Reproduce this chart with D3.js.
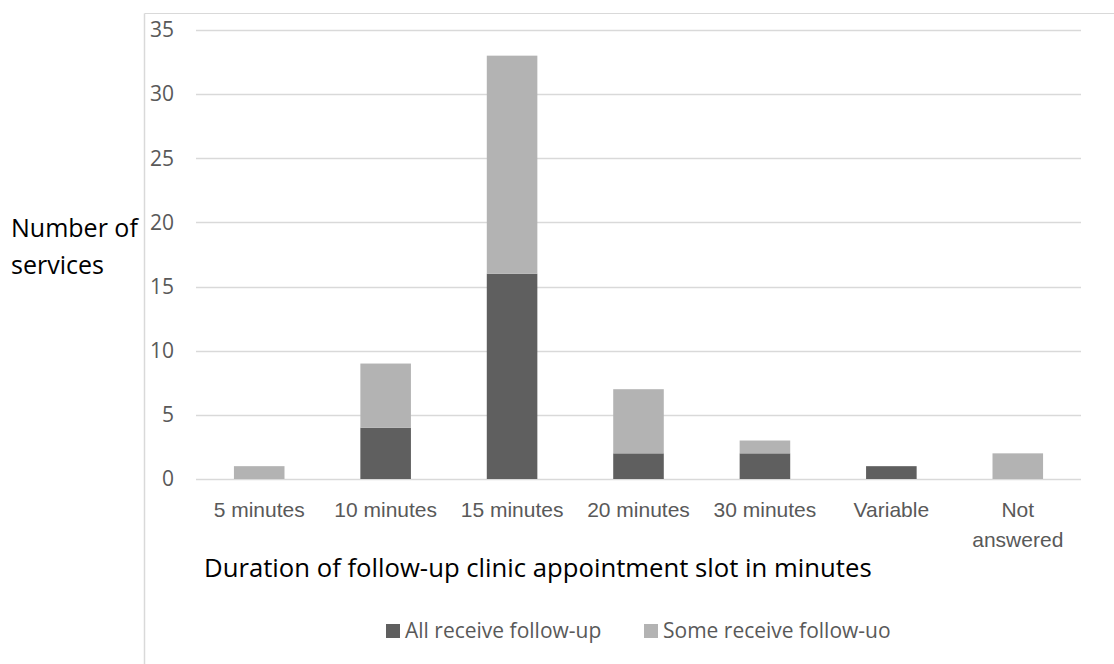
<!DOCTYPE html>
<html>
<head>
<meta charset="utf-8">
<script src="https://cdn.jsdelivr.net/npm/d3@7/dist/d3.min.js"></script>
<style>
  html, body { margin: 0; padding: 0; background: #fff; }
  svg { display: block; font-family: "Open Sans", sans-serif; }
</style>
</head>
<body>
<svg id="chart" width="1114" height="664"></svg>
<script>
// Follow-up clinic appointment slot durations
const categories = ["5 minutes", "10 minutes", "15 minutes", "20 minutes", "30 minutes", "Variable", "Not answered"];
const allReceive = [0, 4, 16, 2, 2, 1, 0];
const someReceive = [1, 5, 17, 5, 1, 0, 2];
const seriesNames = ["All receive follow-up", "Some receive follow-uo"];
const seriesColors = ["#5f5f5f", "#b3b3b3"];
const yTicks = [0, 5, 10, 15, 20, 25, 30, 35];

const svg = d3.select("#chart");

const rows = categories.map((c, i) => ({ cat: c, all: allReceive[i], some: someReceive[i] }));
const stack = d3.stack().keys(["all", "some"])(rows);

const x = d3.scaleBand().domain(categories).range([196, 1081]).paddingInner(0.6).paddingOuter(0.3);
const y = d3.scaleLinear().domain([0, 35]).range([479, 30]);

// outer frame (top and left edges)
svg.append("line").attr("x1", 144.5).attr("x2", 1114).attr("y1", 13.5).attr("y2", 13.5)
  .attr("stroke", "#d9d9d9").attr("stroke-width", 1);
svg.append("line").attr("x1", 144.5).attr("x2", 144.5).attr("y1", 13.5).attr("y2", 664)
  .attr("stroke", "#d9d9d9").attr("stroke-width", 1.5);

// gridlines
svg.append("g").selectAll("line").data(yTicks).join("line")
  .attr("x1", 196).attr("x2", 1081)
  .attr("y1", d => Math.round(y(d)) + 0.5).attr("y2", d => Math.round(y(d)) + 0.5)
  .attr("stroke", "#d9d9d9").attr("stroke-width", 1.5);

// y axis labels
const yAxis = svg.append("g").attr("transform", "translate(174,0)")
  .call(d3.axisLeft(y).tickValues(yTicks).tickSize(0).tickPadding(0));
yAxis.select(".domain").remove();
yAxis.selectAll("text").attr("fill", "#595959").style("font-size", "21px")
  .style("font-family", "'Open Sans', sans-serif");

// stacked bars
svg.append("g").selectAll("g").data(stack).join("g")
  .attr("fill", (d, i) => seriesColors[i])
  .selectAll("rect").data(d => d).join("rect")
  .attr("x", d => x(d.data.cat))
  .attr("width", x.bandwidth())
  .attr("y", d => y(d[1]))
  .attr("height", d => y(d[0]) - y(d[1]));

// x axis category labels
const xAxis = svg.append("g").attr("transform", "translate(0,479)")
  .call(d3.axisBottom(x).tickSize(0).tickPadding(0));
xAxis.select(".domain").remove();
xAxis.selectAll("text").remove();
xAxis.selectAll(".tick").each(function(d) {
  const t = d3.select(this).append("text")
    .attr("text-anchor", "middle").attr("fill", "#595959")
    .style("font-size", "21px");
  const words = d === "Not answered" ? ["Not", "answered"] : [d];
  words.forEach((w, i) => t.append("tspan").attr("x", 0).attr("y", 38 + i * 29.5).text(w));
});

// axis titles
svg.append("text").attr("x", 204).attr("y", 577).attr("fill", "#000")
  .style("font-size", "25.7px")
  .text("Duration of follow-up clinic appointment slot in minutes");

const yTitle = svg.append("text").attr("fill", "#000").style("font-size", "25px");
yTitle.append("tspan").attr("x", 11).attr("y", 237).text("Number of");
yTitle.append("tspan").attr("x", 11).attr("y", 274).text("services");

// legend
const legendX = [386, 644];
const legend = svg.append("g").selectAll("g").data(seriesNames).join("g")
  .attr("transform", (d, i) => `translate(${legendX[i]},624)`);
legend.append("rect").attr("width", 14).attr("height", 14).attr("fill", (d, i) => seriesColors[i]);
legend.append("text").attr("x", 19).attr("y", 14).attr("fill", "#595959")
  .style("font-size", "21px").text(d => d);
</script>
</body>
</html>
